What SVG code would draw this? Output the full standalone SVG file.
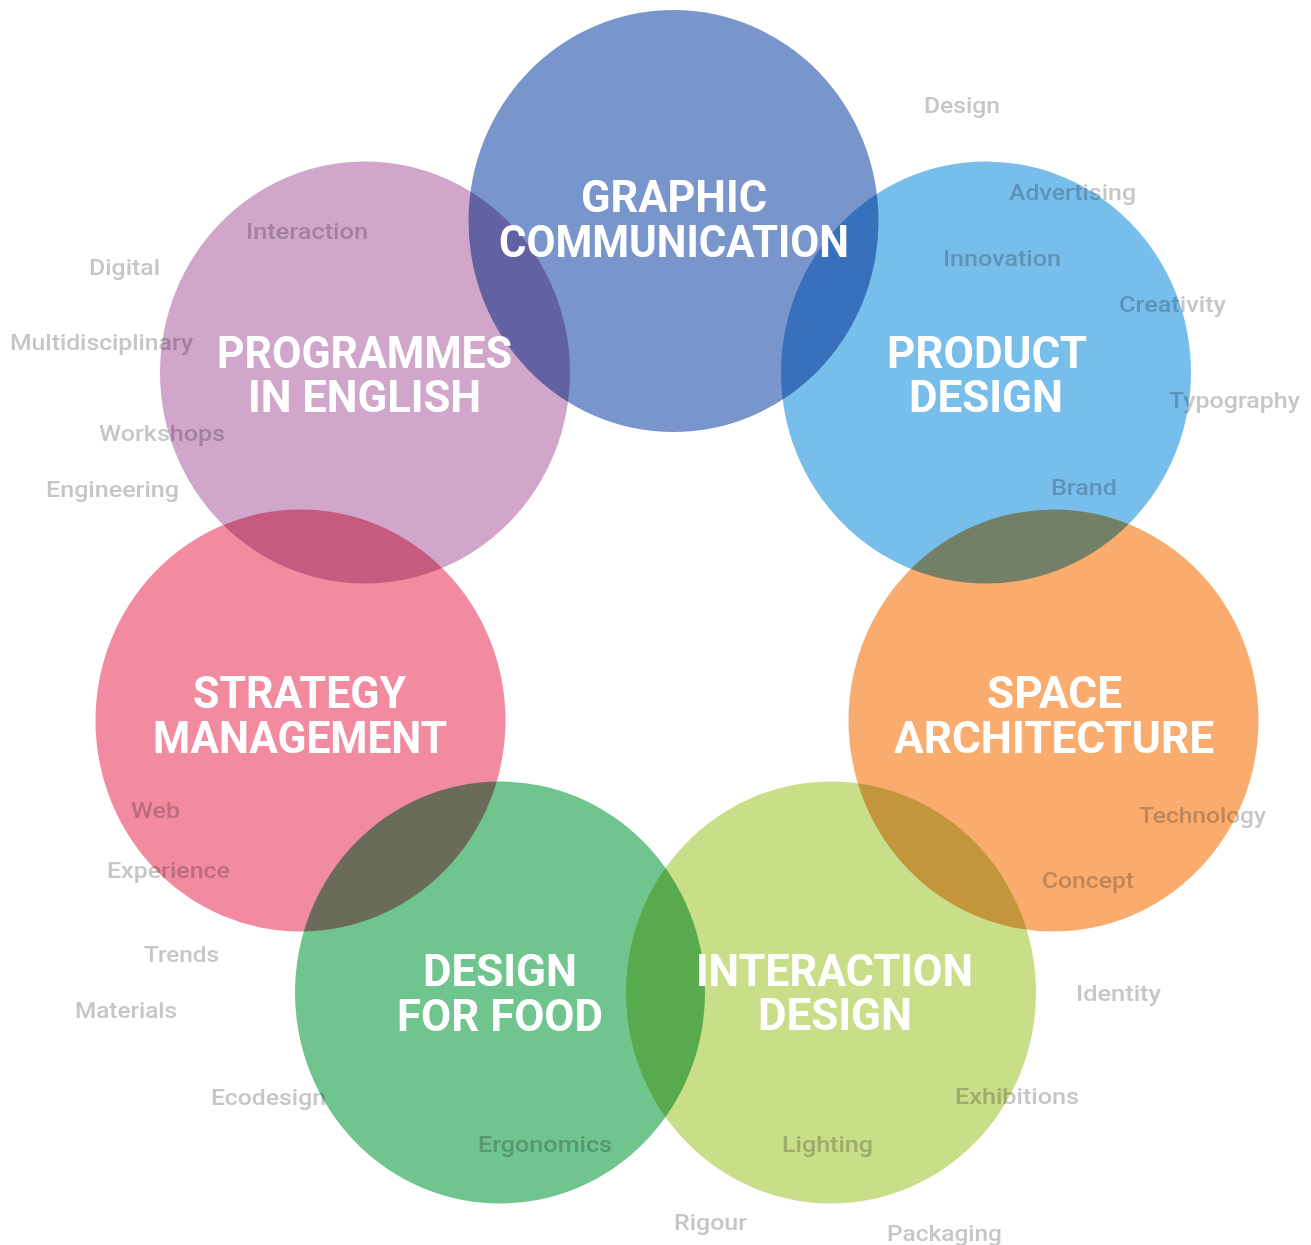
<svg xmlns="http://www.w3.org/2000/svg" width="1311" height="1245" viewBox="0 0 1311 1245">
<style>
.kw{font-family:Roboto,"Liberation Sans",sans-serif;font-size:22px;font-weight:500;fill:#c6c6c9}
.disc{mix-blend-mode:multiply}
.title{font-family:Roboto,"Liberation Sans",sans-serif;font-weight:700;font-size:45px;fill:#ffffff;text-anchor:middle}
</style>
<rect width="1311" height="1245" fill="#ffffff"/>
<g id="keywords" class="kw">
<text x="924" y="113" textLength="76" lengthAdjust="spacingAndGlyphs">Design</text>
<text x="1009" y="200" textLength="127" lengthAdjust="spacingAndGlyphs">Advertising</text>
<text x="246" y="239" textLength="122" lengthAdjust="spacingAndGlyphs">Interaction</text>
<text x="943" y="266" textLength="118" lengthAdjust="spacingAndGlyphs">Innovation</text>
<text x="89" y="275" textLength="71" lengthAdjust="spacingAndGlyphs">Digital</text>
<text x="1119" y="312" textLength="107" lengthAdjust="spacingAndGlyphs">Creativity</text>
<text x="10" y="350" textLength="183" lengthAdjust="spacingAndGlyphs">Multidisciplinary</text>
<text x="1169" y="408" textLength="131" lengthAdjust="spacingAndGlyphs">Typography</text>
<text x="99" y="441" textLength="126" lengthAdjust="spacingAndGlyphs">Workshops</text>
<text x="1051" y="495" textLength="66" lengthAdjust="spacingAndGlyphs">Brand</text>
<text x="46" y="497" textLength="133" lengthAdjust="spacingAndGlyphs">Engineering</text>
<text x="131" y="818" textLength="49" lengthAdjust="spacingAndGlyphs">Web</text>
<text x="1139" y="823" textLength="127" lengthAdjust="spacingAndGlyphs">Technology</text>
<text x="107" y="878" textLength="123" lengthAdjust="spacingAndGlyphs">Experience</text>
<text x="1042" y="888" textLength="92" lengthAdjust="spacingAndGlyphs">Concept</text>
<text x="144" y="962" textLength="75" lengthAdjust="spacingAndGlyphs">Trends</text>
<text x="1076" y="1001" textLength="85" lengthAdjust="spacingAndGlyphs">Identity</text>
<text x="75" y="1018" textLength="102" lengthAdjust="spacingAndGlyphs">Materials</text>
<text x="211" y="1105" textLength="115" lengthAdjust="spacingAndGlyphs">Ecodesign</text>
<text x="955" y="1104" textLength="124" lengthAdjust="spacingAndGlyphs">Exhibitions</text>
<text x="478" y="1152" textLength="134" lengthAdjust="spacingAndGlyphs">Ergonomics</text>
<text x="782" y="1152" textLength="91" lengthAdjust="spacingAndGlyphs">Lighting</text>
<text x="674" y="1230" textLength="73" lengthAdjust="spacingAndGlyphs">Rigour</text>
<text x="887" y="1241" textLength="115" lengthAdjust="spacingAndGlyphs">Packaging</text>
</g>
<g id="node-graphic-communication"><ellipse class="disc" cx="673.5" cy="221" rx="205" ry="211" fill="#7896cc"/></g>
<g id="node-product-design"><ellipse class="disc" cx="986" cy="372.5" rx="205" ry="211" fill="#77beea"/></g>
<g id="node-programmes-in-english"><ellipse class="disc" cx="365" cy="372.5" rx="205" ry="211" fill="#d1a6cb"/></g>
<g id="node-strategy-management"><ellipse class="disc" cx="300.5" cy="720.5" rx="205" ry="211" fill="#f38ba0"/></g>
<g id="node-space-architecture"><ellipse class="disc" cx="1053.5" cy="720.5" rx="205" ry="211" fill="#f9ac6e"/></g>
<g id="node-design-for-food"><ellipse class="disc" cx="500" cy="992.5" rx="205" ry="211" fill="#70c48e"/></g>
<g id="node-interaction-design"><ellipse class="disc" cx="831" cy="992.5" rx="205" ry="211" fill="#c8de88"/></g>
<g id="node-labels" class="title">
<text id="label-graphic-communication"><tspan x="674" y="212" textLength="186" lengthAdjust="spacingAndGlyphs">GRAPHIC</tspan><tspan x="674" y="257" textLength="350" lengthAdjust="spacingAndGlyphs">COMMUNICATION</tspan></text>
<text id="label-product-design"><tspan x="987" y="368" textLength="200" lengthAdjust="spacingAndGlyphs">PRODUCT</tspan><tspan x="986" y="412" textLength="154" lengthAdjust="spacingAndGlyphs">DESIGN</tspan></text>
<text id="label-programmes-in-english"><tspan x="364.5" y="368" textLength="295" lengthAdjust="spacingAndGlyphs">PROGRAMMES</tspan><tspan x="364.5" y="412" textLength="233" lengthAdjust="spacingAndGlyphs">IN ENGLISH</tspan></text>
<text id="label-strategy-management"><tspan x="299.5" y="708" textLength="213" lengthAdjust="spacingAndGlyphs">STRATEGY</tspan><tspan x="300" y="753" textLength="294" lengthAdjust="spacingAndGlyphs">MANAGEMENT</tspan></text>
<text id="label-space-architecture"><tspan x="1054.5" y="708" textLength="135" lengthAdjust="spacingAndGlyphs">SPACE</tspan><tspan x="1054" y="753" textLength="320" lengthAdjust="spacingAndGlyphs">ARCHITECTURE</tspan></text>
<text id="label-design-for-food"><tspan x="500" y="986" textLength="154" lengthAdjust="spacingAndGlyphs">DESIGN</tspan><tspan x="500" y="1031" textLength="206" lengthAdjust="spacingAndGlyphs">FOR FOOD</tspan></text>
<text id="label-interaction-design"><tspan x="834.5" y="986" textLength="277" lengthAdjust="spacingAndGlyphs">INTERACTION</tspan><tspan x="835" y="1030" textLength="154" lengthAdjust="spacingAndGlyphs">DESIGN</tspan></text>
</g>
</svg>
